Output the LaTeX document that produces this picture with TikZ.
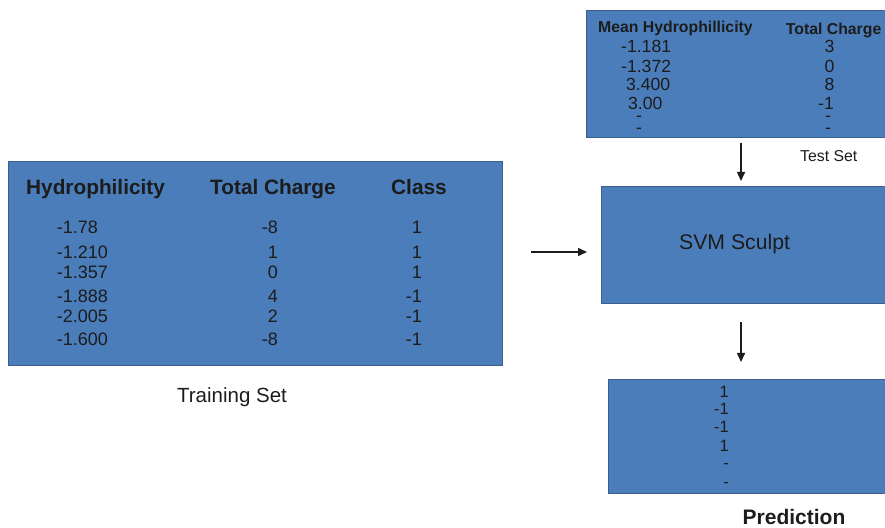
\documentclass[tikz,border=0pt]{standalone}
\usepackage{fontspec}
\setmainfont{Liberation Sans}
\usetikzlibrary{arrows.meta, positioning, calc}

\definecolor{ink}{HTML}{1C1C1C}
\definecolor{panel}{HTML}{4A7DBA}
\definecolor{panelline}{HTML}{3A5F8E}

% font size given in pixels of the page
\newcommand\pxfont[1]{\fontsize{#1bp}{#1bp}\selectfont}

\tikzset{
  panel/.style={draw=panelline, line width=1bp, fill=panel, inner sep=0pt},
  %
  hd/.style={font=\pxfont{20.8}\bfseries, text=ink, inner sep=0pt},
  hdsmall/.style={font=\pxfont{15.8}\bfseries, text=ink, inner sep=0pt},
  val/.style={font=\pxfont{18}, text=ink, inner sep=0pt},
  valsmall/.style={font=\pxfont{17.6}, text=ink, inner sep=0pt},
  predval/.style={font=\pxfont{16.4}, text=ink, inner sep=0pt},
  caption/.style={font=\pxfont{20.5}, text=ink, inner sep=0pt},
  %
  flow/.style={draw=ink, line width=1.5bp, -{Triangle[length=9bp, width=8bp]}},
}

\begin{document}
\begin{tikzpicture}[x=1bp, y=-1bp]
\useasboundingbox (0,0) rectangle (885,528);

% =========================================================================
% training set
% =========================================================================
\node[panel, minimum width=493bp, minimum height=203bp] (train) at (255.5,263.5) {};

\node[hd, anchor=base west] (train-h1) at (26,194.4) {Hydrophilicity};
\node[hd, anchor=base west] (train-h2) at (210,194.4) {Total Charge};
\node[hd, anchor=base west] (train-h3) at (391,194.4) {Class};

\foreach \y/\hyd/\chg/\cls [count=\i] in {234/-1.78/-8/1, 258.5/-1.210/1/1,
    279/-1.357/0/1, 302.5/-1.888/4/-1, 323/-2.005/2/-1, 346/-1.600/-8/-1} {
  \node[val, anchor=base west] (train-a\i) at (56.6,\y) {\hyd};
  \node[val, anchor=base east] (train-b\i) at (278,\y) {\chg};
  \node[val, anchor=base east] (train-c\i) at (422,\y) {\cls};
}

\node[caption, anchor=base] (train-label) at (232,402) {Training Set};

% =========================================================================
% test set
% =========================================================================
\node[panel, minimum width=301bp, minimum height=127bp] (test) at (736.5,74.5) {};

\node[hdsmall, anchor=base west] (test-h1) at (598,33) {Mean Hydrophillicity};
\node[hdsmall, anchor=base west] (test-h2) at (785.7,35) {Total Charge};

\foreach \y/\xa/\hyd/\xb/\chg [count=\i] in {53/621/-1.181/829.5/3,
    73/621/-1.372/829.5/0, 91/626/3.400/829.5/8, 110/628/3.00/826/-1,
    122/636/-/828/-, 134/636/-/828/-} {
  \node[valsmall, anchor=base west] (test-a\i) at (\xa,\y) {\hyd};
  \node[valsmall, anchor=base] (test-b\i) at (\xb,\y) {\chg};
}

\node[font=\pxfont{15.8}, text=ink, inner sep=0pt, anchor=base west]
  (test-label) at (800,162) {Test Set};

% =========================================================================
% classifier and its output
% =========================================================================
\node[panel, minimum width=286bp, minimum height=116bp] (svm) at (744,245) {};
\node[font=\pxfont{21.2}, text=ink, inner sep=0pt, anchor=base west]
  (svm-label) at (679,250) {SVM Sculpt};

\node[panel, minimum width=279bp, minimum height=114bp] (pred) at (747.5,436) {};

\foreach \y/\cls [count=\i] in {397/1, 414/-1, 432/-1, 451/1, 468/-, 487/-} {
  \node[predval, anchor=base east] (pred-v\i) at (729,\y) {\cls};
}

\node[font=\pxfont{21}\bfseries, text=ink, inner sep=0pt, anchor=base west]
  (pred-label) at (742.5,524) {Prediction};

% connectors
\coordinate (feedline) at (0,252);
\coordinate (spine) at (741,0);
\draw[flow, shorten <=28.5bp, shorten >=13.5bp]
  (train.east |- feedline) -- (svm.west |- feedline);
\draw[flow, shorten <=4.5bp, shorten >=5.5bp]
  (test.south -| spine) -- (svm.north -| spine);
\draw[flow, shorten <=18.5bp, shorten >=16.5bp]
  (svm.south -| spine) -- (pred.north -| spine);

\end{tikzpicture}
\end{document}
